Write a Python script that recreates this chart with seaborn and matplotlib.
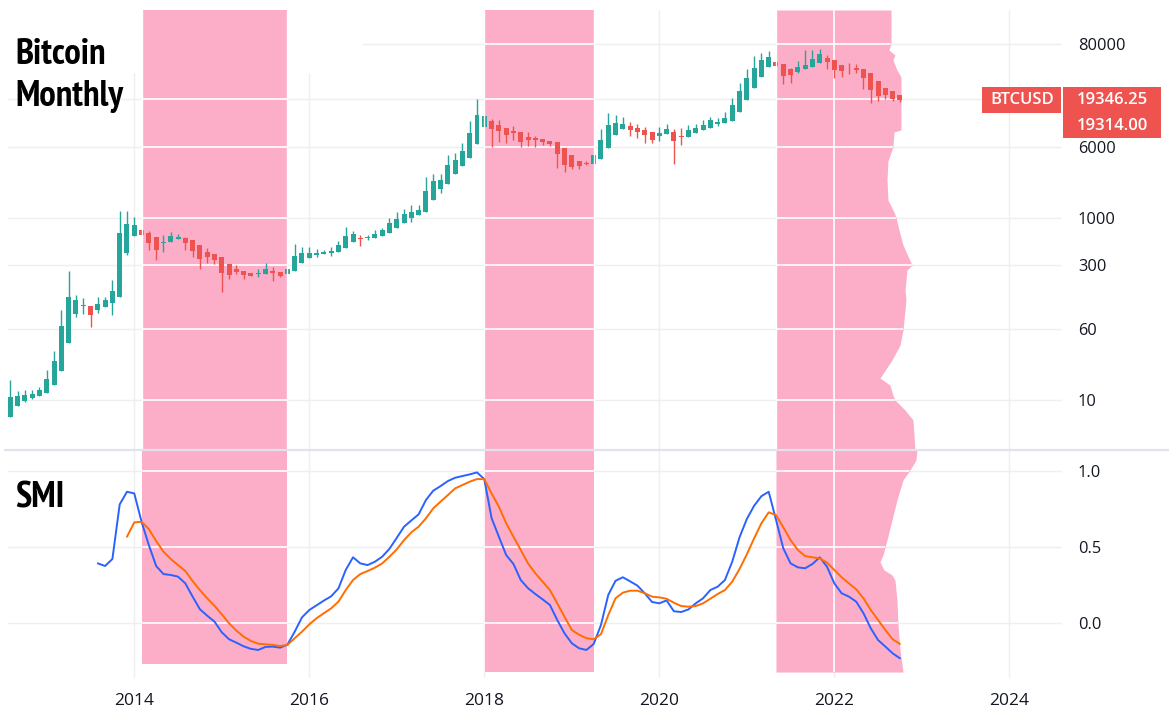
import numpy as np
import pandas as pd
import matplotlib
matplotlib.use("Agg")
import matplotlib.pyplot as plt
import seaborn as sns
from matplotlib.patches import Rectangle
from matplotlib.lines import Line2D
from matplotlib.ticker import NullLocator, NullFormatter

# ---------------- data ----------------
months = pd.period_range("2012-08", "2022-10", freq="M")

open_ = [6.55, 8.65, 9.82, 10.5, 11.05, 11.95, 14.5, 20.6, 42.6, 88.6,
         106.7, 108.4, 97, 104.9, 114.9, 135.8, 406, 628, 728, 686,
         608, 526, 535, 581, 597, 561, 496, 423, 396, 369,
         308, 271, 262, 248, 238.5, 242.6, 258, 252.5, 240.7, 257,
         318, 363.5, 386, 397.5, 408, 419, 459.5, 544, 602, 592,
         602, 631, 680, 776, 870, 982, 1067, 1139, 1547, 2032,
         2306, 3037, 3657, 4513, 6484, 9900, 11440, 10400, 9647, 8843,
         8650, 7694, 7390, 7195, 6966, 6686, 5831, 4800, 4192, 3933,
         3900, 4376, 5731, 8037, 9460, 10036, 9579, 9126, 8583, 7835,
         8145, 8750, 7830, 7737, 8430, 9011, 9677, 10500, 10830, 11588,
         14362, 19388, 26650, 35150, 44285, 50950, 48430, 42185, 39520, 42150,
         44610, 49700, 55925, 53360, 47430, 43950, 43800, 42650, 38280, 31660,
         26590, 24325, 22140]
high = [16.6, 12.5, 12.9, 12.9, 13.9, 21.3, 34.4, 96.9, 260, 140,
        131, 108.4, 134.6, 134.6, 206.7, 1181, 1181, 1015, 728, 712,
        608, 644, 695, 665, 612, 561, 496, 464, 396, 369,
        308, 302, 262, 248, 273, 317, 287, 252.5, 273, 513,
        476, 476, 452, 441, 476, 553, 788, 712, 644, 644,
        730, 768, 989, 1152, 1242, 1373, 1373, 2785, 3004, 3004,
        4853, 5104, 6570, 11447, 19950, 12980, 12040, 11740, 9647, 10086,
        8650, 8674, 7840, 7195, 6966, 6686, 5831, 4800, 4192, 4170,
        4853, 9355, 14000, 13317, 12660, 11163, 10613, 9838, 8583, 9838,
        10613, 9355, 9592, 10343, 10613, 11740, 12662, 12345, 14370, 20460,
        29890, 42560, 59100, 63740, 67040, 50950, 48430, 43650, 52090, 68760,
        68760, 70520, 60580, 53360, 47430, 49520, 48290, 42650, 38280, 31660,
        26590, 24325, 22140]
low = [6.5, 8.65, 9.57, 10.25, 11.05, 11.95, 14.5, 20.6, 42.6, 81.8,
       88.3, 63.5, 90.5, 104.9, 86.1, 135.8, 391, 628, 644, 444,
       342, 419, 535, 581, 441, 370, 273, 318, 310, 153,
       212, 240, 212, 229, 223, 242.6, 201, 223, 240.7, 257,
       318, 363.5, 369, 397.5, 379, 419, 459.5, 544, 485, 567,
       602, 631, 680, 776, 870, 901, 1067, 1139, 1547, 1860,
       2306, 3037, 3657, 4513, 6484, 9900, 5940, 6740, 6570, 7087,
       5939, 6090, 5940, 6245, 6090, 3496, 3160, 3409, 3409, 3768,
       3900, 4376, 5731, 8037, 9460, 7839, 7454, 6570, 6570, 6910,
       8145, 3866, 6245, 7737, 8430, 9011, 9677, 10086, 10830, 11588,
       14362, 19388, 26650, 35150, 44285, 45910, 29370, 30110, 38470, 42150,
       44610, 49700, 42560, 33915, 34790, 37510, 38470, 25680, 18030, 18970,
       19950, 18970, 18500]
close = [10.8, 11.05, 11.33, 11.6, 12.86, 17.0, 26.7, 64.7, 134.6, 124.8,
         110, 86.1, 112.8, 124.8, 156.6, 677, 850, 828, 644, 530,
         444, 544, 628, 612, 526, 430, 351, 370, 342, 247,
         234, 253, 234, 229, 246.7, 273, 247, 229, 273, 379,
         409, 409, 409, 419, 430, 500, 628, 660, 582, 612,
         660, 730, 872, 964, 1095, 1152, 1211, 1956, 2517, 2581,
         3768, 4277, 5369, 8456, 13317, 12980, 9355, 8894, 8040, 8456,
         6738, 7087, 7000, 6738, 6406, 4977, 3768, 3584, 3675, 3866,
         4853, 7087, 10343, 10883, 10613, 9122, 8674, 8040, 7087, 8456,
         9355, 6910, 7644, 9122, 9592, 10343, 11740, 11163, 12345, 17136,
         24415, 33915, 43650, 53420, 57620, 45910, 35940, 36850, 44780, 47070,
         54790, 62150, 50790, 41500, 40470, 43650, 41500, 33915, 25040, 21520,
         22060, 19950, 19314]

smi_start = "2013-08"
smi = [0.393, 0.376, 0.422, 0.780, 0.863, 0.852,
       0.666, 0.513, 0.376, 0.323, 0.317, 0.306, 0.262, 0.175, 0.092, 0.050,
       0.011, -0.059, -0.105, -0.127, -0.151, -0.168, -0.175, -0.155, -0.153, -0.160,
       -0.140, -0.055, 0.039, 0.087, 0.118, 0.149, 0.177, 0.229, 0.350, 0.433,
       0.393, 0.382, 0.404, 0.437, 0.489, 0.561, 0.634, 0.675, 0.715, 0.809,
       0.870, 0.900, 0.933, 0.955, 0.966, 0.977, 0.990, 0.946, 0.690, 0.568,
       0.448, 0.389, 0.284, 0.230, 0.192, 0.157, 0.120, 0.022, -0.066, -0.131,
       -0.164, -0.175, -0.136, -0.011, 0.186, 0.279, 0.302, 0.275, 0.247, 0.197,
       0.140, 0.131, 0.150, 0.079, 0.074, 0.091, 0.131, 0.164, 0.218, 0.240,
       0.284, 0.404, 0.564, 0.684, 0.771, 0.834, 0.863, 0.680, 0.492, 0.393,
       0.367, 0.361, 0.389, 0.433, 0.371, 0.262, 0.197, 0.175, 0.142, 0.066,
       -0.033, -0.110, -0.153, -0.197, -0.230]

signal_start = "2013-12"
signal = [0.568, 0.662,
          0.666, 0.618, 0.540, 0.470, 0.422, 0.382, 0.343, 0.277, 0.218, 0.164,
          0.115, 0.059, 0.000, -0.048, -0.088, -0.116, -0.134, -0.138, -0.142, -0.149,
          -0.142, -0.098, -0.055, -0.007, 0.033, 0.066, 0.098, 0.142, 0.218, 0.284,
          0.323, 0.343, 0.365, 0.393, 0.437, 0.485, 0.546, 0.597, 0.634, 0.689,
          0.754, 0.798, 0.841, 0.885, 0.907, 0.929, 0.946, 0.946, 0.852, 0.765,
          0.656, 0.568, 0.481, 0.393, 0.328, 0.273, 0.218, 0.131, 0.043, -0.044,
          -0.075, -0.098, -0.105, -0.072, 0.054, 0.164, 0.201, 0.214, 0.214, 0.197,
          0.175, 0.170, 0.161, 0.135, 0.113, 0.109, 0.113, 0.131, 0.161, 0.192,
          0.218, 0.273, 0.356, 0.452, 0.557, 0.656, 0.728, 0.710, 0.630, 0.546,
          0.481, 0.441, 0.433, 0.426, 0.398, 0.350, 0.302, 0.262, 0.223, 0.164,
          0.087, 0.022, -0.044, -0.105, -0.136]

price_ticks = [10, 60, 300, 1000, 6000, 20000, 80000]
price_labels = ["10", "60", "300", "1000", "6000", "", "80000"]  # 20000 hidden by the price tag
smi_ticks = [0.0, 0.5, 1.0]
year_ticks = [2014, 2016, 2018, 2020, 2022, 2024]

shade_start = ["2014-02", "2018-01", "2021-05"]
shade_end = ["2015-10", "2019-04"]
smi_shade_floor = [-0.27, -0.32, -0.32]

# ragged right edge of the last shaded band
edge_price = [188700, 82000, 68760, 60580, 53420, 41500, 34790, 9122, 8674, 5939,
              4170, 2581, 1558, 1152, 1015, 730, 500, 302, 266, 160.6,
              124.8, 58.5, 40.0, 27.4, 17.4, 14.6, 11.3, 10.0, 7.76, 6.03, 2.83]
edge_price_x = [2022.648, 2022.648, 2022.625, 2022.693, 2022.670, 2022.716, 2022.762,
                2022.762, 2022.682, 2022.670, 2022.613, 2022.602, 2022.613, 2022.682,
                2022.705, 2022.739, 2022.785, 2022.888, 2022.831, 2022.808, 2022.819,
                2022.785, 2022.751, 2022.659, 2022.522, 2022.636, 2022.670, 2022.693,
                2022.808, 2022.899, 2022.922]
edge_smi = [1.137, 1.071, 1.005, 0.940, 0.809, 0.677, 0.546, 0.448, 0.402, 0.350,
            0.317, 0.284, 0.153, -0.011, -0.175, -0.32]
edge_smi_x = [2022.945, 2022.933, 2022.865, 2022.785, 2022.716, 2022.659, 2022.602,
              2022.556, 2022.522, 2022.568, 2022.659, 2022.693, 2022.716, 2022.728,
              2022.751, 2022.785]

symbol = "BTCUSD"
last_prices = ["19346.25", "19314.00"]

# ---------------- styling ----------------
GREEN = "#26a69a"
RED = "#ef5350"
PINK = "#fcaec8"
BLUE = "#2962ff"
ORANGE = "#ff6d00"
GRID = "#efefef"
TXT = "#131722"

sns.set_theme(style="white")
plt.rcParams["font.family"] = ["Open Sans", "DejaVu Sans"]

W, H = 1169, 726
fig = plt.figure(figsize=(W / 100, H / 100), dpi=100)
fig.patch.set_facecolor("white")

left = 8 / W
width = (1062 - 8) / W
ax1 = fig.add_axes([left, 1 - 450 / H, width, 440 / H])
ax2 = fig.add_axes([left, 1 - 678 / H, width, 228 / H])


def yr(s):
    p = pd.Period(s, freq="M")
    return p.year + (p.month - 1) / 12


x = np.array([p.year + (p.month - 1) / 12 for p in months])
df = pd.DataFrame({"x": x, "open": open_, "high": high, "low": low, "close": close})

XLIM = (2012.557, 2024.602)
PLIM = (2.83, 188700)
SLIM = (-0.359, 1.137)

for ax in (ax1, ax2):
    ax.set_facecolor("white")
    for sp in ax.spines.values():
        sp.set_visible(False)
    ax.set_xlim(*XLIM)
    ax.set_xticks(year_ticks)
    ax.grid(True, color=GRID, lw=1.0)
    ax.set_axisbelow(True)

ax1.set_yscale("log")
ax1.set_ylim(*PLIM)
ax2.set_ylim(*SLIM)

# ---- candles ----
up = df["close"] >= df["open"]
cols = np.where(up, GREEN, RED)
ax1.vlines(df["x"], df["low"], df["high"], colors=cols, lw=1.0, zorder=2)
ax1.bar(df["x"], (df["close"] - df["open"]).abs(),
        bottom=np.minimum(df["open"], df["close"]),
        width=0.0571, color=cols, linewidth=0, zorder=2.1)

# ---- SMI lines ----
i0 = months.get_loc(pd.Period(smi_start, freq="M"))
i1 = months.get_loc(pd.Period(signal_start, freq="M"))
sns.lineplot(x=x[i0:i0 + len(smi)], y=smi, ax=ax2, color=BLUE, linewidth=1.4,
             estimator=None, sort=False, zorder=3)
sns.lineplot(x=x[i1:i1 + len(signal)], y=signal, ax=ax2, color=ORANGE, linewidth=1.4,
             estimator=None, sort=False, zorder=3)
ax2.set_xlabel("")
ax2.set_ylabel("")

# ---- white box at top-left (hides grid under the title) ----
box_w = (363 - 8) / 1054
box_y0 = (450 - 73) / 440
ax1.add_patch(Rectangle((0, box_y0), box_w, 1 - box_y0, transform=ax1.transAxes,
                        facecolor="white", edgecolor="none", zorder=0.6))
box_price = 10 ** (np.log10(PLIM[0]) + box_y0 * (np.log10(PLIM[1]) - np.log10(PLIM[0])))

# ---- shaded bands ----
top_polys, bot_polys = [], []
for k, (s, e) in enumerate(zip(shade_start[:2], shade_end)):
    xs = [yr(s), yr(e)]
    top_polys.append(ax1.fill_between(xs, PLIM[0], PLIM[1], color=PINK, lw=0, zorder=0.8))
    bot_polys.append(ax2.fill_between(xs, smi_shade_floor[k], SLIM[1], color=PINK, lw=0, zorder=0.8))
x3 = yr(shade_start[2])
top_polys.append(ax1.fill_betweenx(edge_price, x3, edge_price_x, color=PINK, lw=0, zorder=0.8))
bot_polys.append(ax2.fill_betweenx(edge_smi, x3, edge_smi_x, color=PINK, lw=0, zorder=0.8))

# white grid lines over the bands
for ax, polys, yt in ((ax1, top_polys, price_ticks), (ax2, bot_polys, smi_ticks)):
    for poly in polys:
        path = poly.get_paths()[0]
        for yv in yt:
            xmin = box_w if (ax is ax1 and yv > box_price) else 0
            ln = ax.axhline(yv, xmin=xmin, color="white", lw=1.2, zorder=0.9)
            ln.set_clip_path(path, ax.transData)
        for xv in year_ticks:
            ln = ax.axvline(xv, color="white", lw=1.2, zorder=0.9)
            ln.set_clip_path(path, ax.transData)

# band borders over candles
for xe in [yr(s) for s in shade_start] + [yr(e) for e in shade_end]:
    ax1.axvline(xe, color="white", lw=1.0, zorder=3)

# ---- ticks ----
ax1.yaxis.tick_right()
ax1.set_yticks(price_ticks)
ax1.set_yticklabels(price_labels)
ax1.yaxis.set_minor_locator(NullLocator())
ax1.yaxis.set_minor_formatter(NullFormatter())
ax1.tick_params(axis="y", length=0, pad=11.5, labelsize=11.8, labelcolor=TXT)
ax1.tick_params(axis="x", length=0, labelbottom=False)

ax2.yaxis.tick_right()
ax2.set_yticks(smi_ticks)
ax2.set_yticklabels([f"{t:.1f}" for t in smi_ticks])
ax2.tick_params(axis="y", length=0, pad=11.5, labelsize=11.8, labelcolor=TXT)
ax2.set_xticklabels([str(t) for t in year_ticks])
ax2.tick_params(axis="x", length=0, pad=10.5, labelsize=12.5, labelcolor=TXT)
for lab in ax2.get_xticklabels():
    lab.set_fontweight("medium")

# ---- titles ----
title_font = dict(fontsize=26.5, fontweight="bold", color="black",
                  family=["PT Sans Narrow", "Asap Condensed", "Liberation Sans"])
fig.text(15 / W, 1 - 64 / H, "Bitcoin", va="baseline", ha="left", **title_font)
fig.text(15 / W, 1 - 106 / H, "Monthly", va="baseline", ha="left", **title_font)
fig.text(15 / W, 1 - 508 / H, "SMI", va="baseline", ha="left", **title_font)

# ---- panel divider ----
fig.add_artist(Line2D([5 / W, 1.0], [1 - 450 / H, 1 - 450 / H], transform=fig.transFigure,
                      color="#e0e3eb", lw=1.6, zorder=5))

# ---- last price label ----
fig.add_artist(Rectangle((982 / W, 1 - 113 / H), 79 / W, 26 / H, transform=fig.transFigure,
                         facecolor=RED, edgecolor="none", zorder=6))
fig.add_artist(Rectangle((1063 / W, 1 - 138 / H), 98 / W, 51 / H, transform=fig.transFigure,
                         facecolor=RED, edgecolor="none", zorder=6))
lab_font = dict(fontsize=12, fontweight="semibold", color="white", zorder=7,
                ha="center", va="center")
fig.text(1022 / W, 1 - 100 / H, symbol, **lab_font)
fig.text(1112 / W, 1 - 100 / H, last_prices[0], **lab_font)
fig.text(1112 / W, 1 - 125.5 / H, last_prices[1], **lab_font)

fig.savefig("out.png", dpi=100, facecolor="white")
